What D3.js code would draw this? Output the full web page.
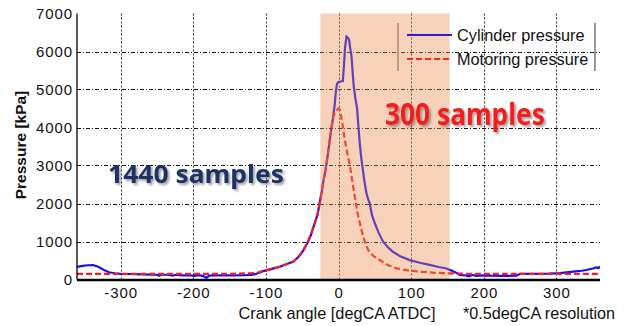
<!DOCTYPE html>
<html><head><meta charset="utf-8">
<script src="https://cdn.jsdelivr.net/npm/d3@7"></script>
<style>body{margin:0;background:#fff}svg{display:block}</style>
</head><body><svg id="c" width="627" height="326"></svg>
<script>
// ---- data ----
const xTicks = [-300, -200, -100, 0, 100, 200, 300];
const yTicks = [0, 1000, 2000, 3000, 4000, 5000, 6000, 7000];
const cylAngle = [-360,-352,-345,-338,-330,-322,-316,-308,-300,-290,-280,-270,-260,-250,-247,-244,-235,-228,-224,-215,-205,-198,-192,-186,-182,-178,-170,-160,-150,-140,-130,-120,-115,-110,-104,-95,-88,-81,-72,-62,-56,-53,-48,-42,-38,-35,-32,-29,-26,-23,-21,-18,-16.5,-14,-12,-10,-7.4,-5,-3.7,-2,0,3,6,7.7,9,11,13,14.6,16,17.9,19.5,21,23,25.6,27.5,29.3,31,33,35.5,38.5,41,43,46,50,55,61.4,68,75,85,98,112,125.6,138,148.6,156,162,167,175,180,183,190,199,210,225,245,250,270,290,305,323,335,341,350,355,358,360];
const cylPressure = [330,360,375,380,330,240,190,165,150,145,140,135,130,125,100,125,125,105,125,110,110,95,115,90,40,100,110,110,110,110,112,120,140,175,220,260,300,335,400,470,580,645,780,995,1170,1350,1520,1700,2005,2300,2574,2850,3058,3380,3671,3950,4260,4650,4940,5150,5200,5210,5220,5690,6100,6390,6360,6300,6100,5870,5450,5080,4800,4500,4000,3580,3250,2970,2600,2270,2100,2005,1700,1480,1240,995,850,730,610,510,440,385,330,290,230,180,120,105,85,120,95,110,100,95,100,150,150,155,170,205,230,250,290,320,300,340];
const motAngle = [-360,-300,-250,-200,-150,-120,-110,-104,-95,-88,-81,-72,-62,-53,-48,-42,-35,-29,-26,-21,-16.5,-12,-7.4,-4,0,2,5,8.7,12,15.5,19,22.4,26,31.6,36,40.8,48,56.8,68,80,95,112,130,149,180,250,300,360];
const motPressure = [150,150,150,150,150,165,190,224,265,300,337,400,470,645,790,995,1347,1700,2005,2574,3058,3671,4284,4430,4500,4460,4150,3671,3330,3013,2600,2180,1760,1303,1000,776,620,513,380,294,240,205,180,163,150,150,150,150];
const shadeRange = [-25, 153];
const seriesNames = ["Cylinder pressure", "Motoring pressure"];
const notes = ["1440 samples", "300 samples"];
const xLabel = "Crank angle [degCA ATDC]";
const yLabel = "Pressure [kPa]";
const footNote = "*0.5degCA resolution";

// ---- layout ----
const svg = d3.select("#c");
const L = 77, R = 600, T = 13.5, B = 279.5;
const x = d3.scaleLinear().domain([-360, 360]).range([L, R]);
const y = d3.scaleLinear().domain([0, 7000]).range([B, T]);
const font = "Arial, 'Liberation Sans', sans-serif";

const defs = svg.append("defs");
defs.append("clipPath").attr("id","clip").append("rect")
  .attr("x", L).attr("y", 0).attr("width", R - L).attr("height", B + 1);
const f = defs.append("filter").attr("id","sh").attr("x","-10%").attr("y","-20%").attr("width","130%").attr("height","150%");
f.append("feDropShadow").attr("dx",2).attr("dy",2).attr("stdDeviation",1.3)
  .attr("flood-color","#555").attr("flood-opacity",0.55);

// grid
const g = svg.append("g");
g.selectAll(".hg").data(yTicks.filter(d => d > 0 && d < 7000)).join("line")
  .attr("x1", L).attr("x2", R).attr("y1", d => Math.round(y(d)) + 0.5).attr("y2", d => Math.round(y(d)) + 0.5)
  .attr("stroke", "#111").attr("stroke-width", 1).attr("stroke-dasharray", "4,2,1,2");
g.selectAll(".vg").data(xTicks).join("line")
  .attr("y1", T).attr("y2", B).attr("x1", d => Math.round(x(d)) + 0.5).attr("x2", d => Math.round(x(d)) + 0.5)
  .attr("stroke", "#333").attr("stroke-width", 1).attr("stroke-dasharray", "2,2");

// lines
const cyl = cylAngle.map((a, i) => [a, cylPressure[i]]);
const mot = motAngle.map((a, i) => [a, motPressure[i]]);
const line = d3.line().x(d => x(d[0])).y(d => y(d[1]));
const lg = svg.append("g").attr("clip-path", "url(#clip)");
lg.append("path").datum(cyl).attr("d", line).attr("fill","none").attr("stroke","#1010ff").attr("stroke-width",2.2);
lg.append("path").datum(mot).attr("d", line).attr("fill","none").attr("stroke","#ff1a1a").attr("stroke-width",2.2).attr("stroke-dasharray","6,3");

// legend borders (under shading)
const lx0 = 398, lx1 = 595, ly0 = 23, ly1 = 71;
svg.append("line").attr("x1",lx0).attr("x2",lx0).attr("y1",ly0).attr("y2",ly1).attr("stroke","#8a8a8a").attr("stroke-width",1.5);
svg.append("line").attr("x1",lx1).attr("x2",lx1).attr("y1",ly0).attr("y2",ly1).attr("stroke","#999").attr("stroke-width",2);

// shading overlay
svg.append("rect").attr("x", x(shadeRange[0])).attr("y", T).attr("width", x(shadeRange[1]) - x(shadeRange[0]))
  .attr("height", B - T).attr("fill", "rgb(232,140,76)").attr("fill-opacity", 0.39);

// axes
svg.append("line").attr("x1", L).attr("x2", L).attr("y1", T).attr("y2", B).attr("stroke","#000").attr("stroke-width",1.3);
svg.append("line").attr("x1", L).attr("x2", R).attr("y1", B + 0.5).attr("y2", B + 0.5).attr("stroke","#000").attr("stroke-width",2.6);

// tick labels
svg.selectAll(".yt").data(yTicks).join("text")
  .attr("x", 73).attr("y", d => Math.max(y(d), 10) + 5).attr("text-anchor","end")
  .attr("font-family", font).attr("font-size", 15).attr("letter-spacing", 0.9).attr("fill","#111").text(d => d);
svg.selectAll(".xt").data(xTicks).join("text")
  .attr("x", d => x(d) + 0.5).attr("y", 298).attr("text-anchor","middle")
  .attr("font-family", font).attr("font-size", 15).attr("letter-spacing", 0.9).attr("fill","#111").text(d => d);

// axis labels
svg.append("text").attr("transform","translate(26,145) rotate(-90)").attr("text-anchor","middle")
  .attr("font-family", font).attr("font-size", 15.5).attr("font-weight","bold").attr("fill","#111").text(yLabel);
svg.append("text").attr("x", 337).attr("y", 319).attr("text-anchor","middle")
  .attr("font-family", font).attr("font-size", 16.3).attr("fill","#111").text(xLabel);
svg.append("text").attr("x", 615).attr("y", 319).attr("text-anchor","end")
  .attr("font-family", font).attr("font-size", 16.2).attr("fill","#111").text(footNote);

// legend
const leg = [{y: 35, c: "#2a1cd8", dash: null}, {y: 59, c: "#ff2a10", dash: "6,3"}];
leg.forEach((d, i) => {
  svg.append("line").attr("x1", 407).attr("x2", 452).attr("y1", d.y).attr("y2", d.y)
    .attr("stroke", d.c).attr("stroke-width", 2.2).attr("stroke-dasharray", d.dash);
  svg.append("text").attr("x", 457).attr("y", d.y + 5.5).attr("font-family", font).attr("font-size", 16.3)
    .attr("fill","#111").text(seriesNames[i]);
});

// annotations
svg.append("text").attr("x", 108).attr("y", 183).attr("font-family","'Noto Sans', 'Open Sans', sans-serif")
  .attr("font-weight","bold").attr("font-size", 25.5).attr("fill","#1c3366").attr("filter","url(#sh)")
  .attr("textLength", 176).attr("lengthAdjust","spacingAndGlyphs").text(notes[0]);
svg.append("text").attr("x", 385).attr("y", 124.5).attr("font-family","'Noto Sans', 'Open Sans', sans-serif")
  .attr("font-weight","bold").attr("font-size", 30).attr("fill","#f41c1c").attr("filter","url(#sh)")
  .attr("textLength", 160).attr("lengthAdjust","spacingAndGlyphs").text(notes[1]);
</script></body></html>
